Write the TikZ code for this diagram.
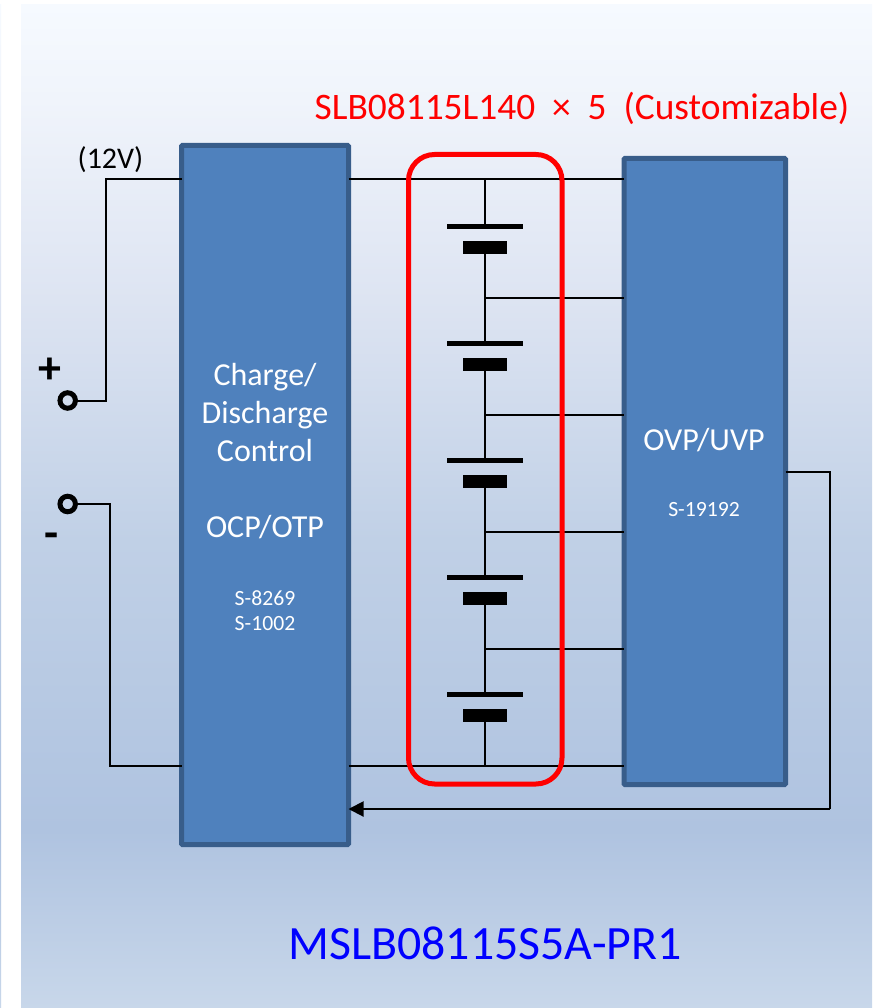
\documentclass[tikz,border=0pt]{standalone}
\usepackage{fontspec}
\setmainfont{Carlito}
\usetikzlibrary{positioning, arrows.meta, calc}

\definecolor{blockfill}{HTML}{4F81BD}
\definecolor{blockline}{HTML}{385D8A}
\definecolor{pnlA}{HTML}{F6FAFF}
\definecolor{pnlB}{HTML}{F0F4FB}
\definecolor{pnlC}{HTML}{DDE4F2}
\definecolor{pnlD}{HTML}{C0D0E6}
\definecolor{pnlE}{HTML}{AFC3E0}
\definecolor{pnlF}{HTML}{C8D7EA}
\pgfdeclareverticalshading{panelshade}{100bp}{color(0bp)=(pnlF); color(25bp)=(pnlF); color(33.9bp)=(pnlE); color(48.3bp)=(pnlD); color(60.3bp)=(pnlC); color(70.3bp)=(pnlB); color(75bp)=(pnlA); color(100bp)=(pnlA)}

\begin{document}
\begin{tikzpicture}[
    x=1pt, y=-1pt,
    >=Stealth,
    block/.style={rectangle, draw=blockline, fill=blockfill, line width=5pt,
                  rounded corners=1pt, outer sep=0pt, inner sep=0pt},
    wire/.style={line width=2pt, draw=black, line join=miter},
    feed/.style={wire, -{Triangle[length=15pt, width=15pt]}},
    terminal/.style={circle, draw=black, fill=none, line width=5pt,
                     minimum size=15.5pt, inner sep=0pt, outer sep=0pt},
    longplate/.style={rectangle, fill=black, minimum width=75.5pt,
                      minimum height=5.5pt, inner sep=0pt, outer sep=0pt},
    shortplate/.style={rectangle, fill=black, minimum width=44.5pt,
                       minimum height=13pt, inner sep=0pt, outer sep=0pt},
    bigtext/.style={text=white, align=center, inner sep=0pt,
                    font=\fontsize{32}{38}\selectfont},
    smalltext/.style={text=white, align=center, inner sep=0pt,
                      font=\fontsize{21.7}{25}\selectfont},
    signtext/.style={inner sep=0pt, font=\bfseries\fontsize{46}{46}\selectfont},
]
\useasboundingbox (0,0) rectangle (872,1008);

% Background
\fill[white] (0,0) rectangle (872,1008);
\shade[shading=panelshade] (21,5) rectangle (872,1008);
\shade[shading=panelshade] (0,5) rectangle (1,1008);

% Nodes
\node[block, minimum width=167pt, minimum height=699pt] (ctrl) at (265,495) {};
\node[block, minimum width=161.5pt, minimum height=626pt] (ovp) at (704.75,471.5) {};
\node[terminal] (tplus)  at (67.7,400.5) {};
\node[terminal] (tminus) at (67.7,504)   {};
\coordinate (cnrP) at (105.5,179.5);
\coordinate (cnrM) at (110,766);
\coordinate (busT) at (485,179.5);
\coordinate (busB) at (485,766);
\coordinate (cnrF) at (830,471.5);
\coordinate (cnrG) at (830,809);

% Cells
\foreach \i/\y in {1/226.5, 2/343.5, 3/460.5, 4/577.5, 5/694.5} {
  \node[longplate]  (long\i)  at (485,\y) {};
  \node[shortplate] (short\i) at (485,\y+20.5) {};
}

% Wires
\draw[wire] (tplus.east) -- (cnrP |- tplus) -- (cnrP) -- (ctrl.west |- cnrP);
\draw[wire] (tminus.east) -- (cnrM |- tminus) -- (cnrM) -- (ctrl.west |- cnrM);
\draw[wire] (ctrl.east |- cnrP) -- (ovp.west |- cnrP);
\draw[wire] (ctrl.east |- cnrM) -- (ovp.west |- cnrM);
\draw[wire] (busT) -- (long1.north);
\draw[wire] (short5.south) -- (busB);
\foreach \i/\j/\y in {1/2/297.5, 2/3/414.5, 3/4/531.5, 4/5/648.5} {
  \draw[wire] (short\i.south) -- (long\j.north);
  \coordinate (tap\i) at (485,\y);
  \draw[wire] (tap\i) -- (ovp.west |- tap\i);
}
\draw[wire] (ovp.east |- cnrF) -- (cnrF) -- (cnrG);
\draw[feed] (cnrG) -- (ctrl.east |- cnrG);

% Red frame
\node[rectangle, draw=red, line width=5pt, rounded corners=26pt, inner sep=0pt,
      minimum width=153.5pt, minimum height=629.5pt] (pack) at (485.25,469.25) {};

% Labels
\node[bigtext] (lblCharge) at (265,413) {Charge/\\Discharge\\Control};
\node[bigtext] (lblOcp) at (265,527) {OCP/OTP};
\node[smalltext] (lblChip) at (265,610.5) {S-8269\\S-1002};
\node[bigtext] (lblOvp) at (704,440) {OVP/UVP};
\node[smalltext] (lblUvp) at (704,510) {S-19192};
\node[inner sep=0pt, font=\fontsize{30}{30}\selectfont] (lblVolt) at (110.5,160) {(12V)};
\node[signtext] (lblPlus) at (49.8,371) {+};
\node[signtext] (lblMinus) at (52,541) {-};
\node[text=red, inner sep=0pt, font=\fontsize{37.4}{37.4}\selectfont] (lblCell) at (582,108.5)
  {SLB08115L140\ \ ×\ \ 5\ \ (Customizable)};
\node[text=blue, inner sep=0pt, font=\fontsize{47.8}{47.8}\selectfont] (lblModel) at (485,943) {MSLB08115S5A-PR1};

\end{tikzpicture}
\end{document}
